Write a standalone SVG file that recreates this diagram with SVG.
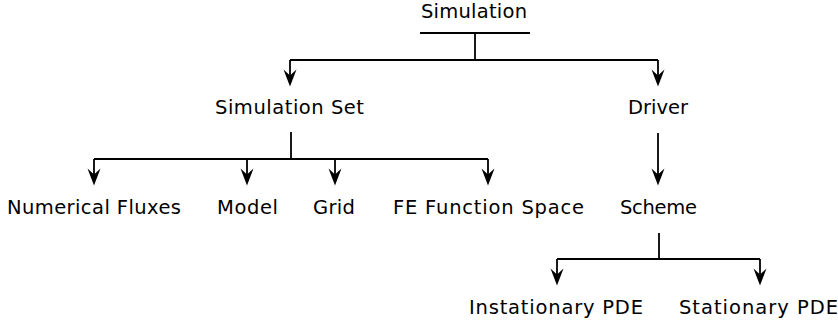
<svg xmlns="http://www.w3.org/2000/svg" width="838" height="327" viewBox="0 0 838 327">
<style>
text{font-family:"DejaVu Sans","Liberation Sans",sans-serif;font-size:19.5px;fill:#000;text-anchor:middle}
.c{fill:none;stroke:#000;stroke-width:1.8}
</style>
<defs>
<marker id="ah" markerUnits="userSpaceOnUse" orient="auto" markerWidth="22" markerHeight="16" viewBox="-19 -8 22 16" refX="-4" refY="0">
<path d="M0,0 L-17,-6.5 L-11,0 L-17,6.5 Z" fill="#000"/>
</marker>
</defs>
<rect width="838" height="327" fill="#fff"/>
<g id="connectors">
<path class="c" d="M420,33 H530"/>
<path class="c" d="M475,33 V60"/>
<path class="c" d="M290,60 H658"/>
<path class="c" d="M290,60 V82.5" marker-end="url(#ah)"/>
<path class="c" d="M658,60 V82.5" marker-end="url(#ah)"/>
<path class="c" d="M291,132 V159"/>
<path class="c" d="M94,159 H488"/>
<path class="c" d="M94,159 V181.5" marker-end="url(#ah)"/>
<path class="c" d="M247,159 V181.5" marker-end="url(#ah)"/>
<path class="c" d="M335,159 V181.5" marker-end="url(#ah)"/>
<path class="c" d="M488,159 V181.5" marker-end="url(#ah)"/>
<path class="c" d="M658,133 V181.5" marker-end="url(#ah)"/>
<path class="c" d="M659,233 V259"/>
<path class="c" d="M557,259 H760"/>
<path class="c" d="M557,259 V281.5" marker-end="url(#ah)"/>
<path class="c" d="M760,259 V281.5" marker-end="url(#ah)"/>
</g>
<g id="simulation"><text x="474" y="18" textLength="106" lengthAdjust="spacing">Simulation</text></g>
<g id="simulation-set"><text x="289.5" y="114" textLength="149" lengthAdjust="spacing">Simulation Set</text></g>
<g id="driver"><text x="658" y="114" textLength="60" lengthAdjust="spacing">Driver</text></g>
<g id="numerical-fluxes"><text x="94" y="214" textLength="174" lengthAdjust="spacing">Numerical Fluxes</text></g>
<g id="model"><text x="247.5" y="214" textLength="61" lengthAdjust="spacing">Model</text></g>
<g id="grid"><text x="334" y="214" textLength="42" lengthAdjust="spacing">Grid</text></g>
<g id="fe-function-space"><text x="488.5" y="214" textLength="191" lengthAdjust="spacing">FE Function Space</text></g>
<g id="scheme"><text x="658.5" y="214" textLength="77" lengthAdjust="spacing">Scheme</text></g>
<g id="instationary-pde"><text x="556" y="313.5" textLength="174" lengthAdjust="spacing">Instationary PDE</text></g>
<g id="stationary-pde"><text x="758.5" y="313.5" textLength="159" lengthAdjust="spacing">Stationary PDE</text></g>
</svg>
